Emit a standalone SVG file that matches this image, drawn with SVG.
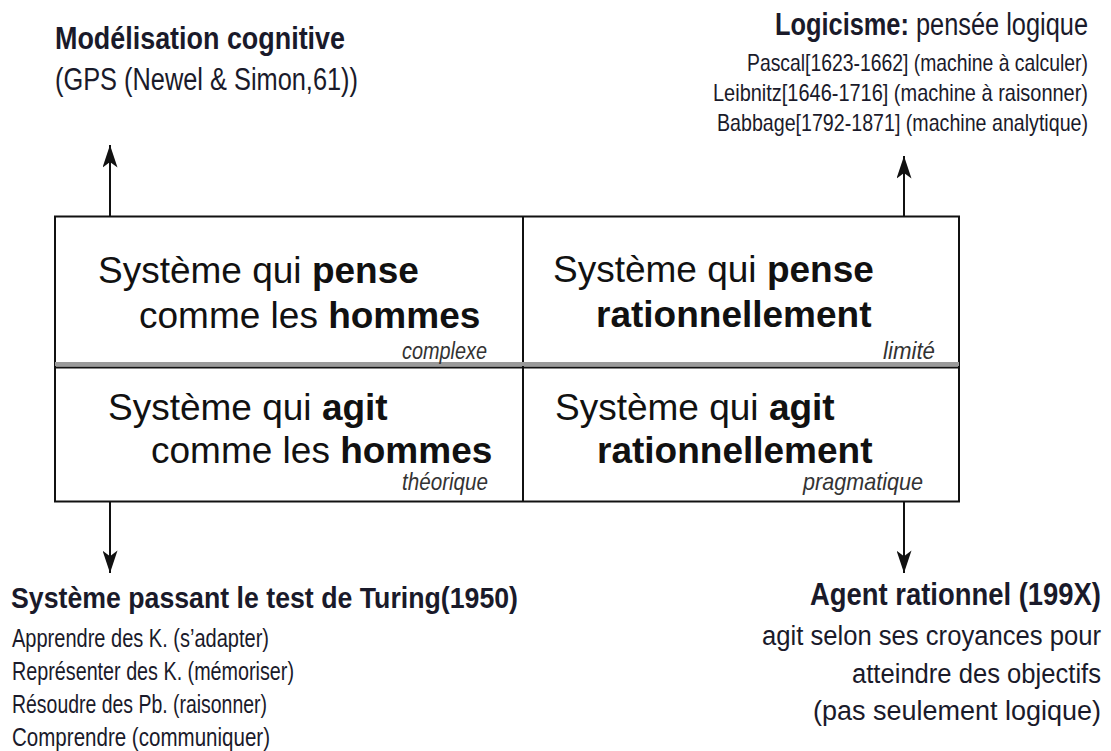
<svg xmlns="http://www.w3.org/2000/svg" width="1111" height="751" viewBox="0 0 1111 751">
<style>
.big{font-family:"Liberation Sans",Arial,sans-serif;font-size:37px;fill:#111}
.b{font-weight:bold}
.tag{font-family:"Liberation Sans Narrow","Liberation Sans",Arial,sans-serif;font-style:italic;font-size:24px;fill:#333}
.cd{font-family:"Liberation Sans Narrow","Liberation Sans",Arial,sans-serif;fill:#1a1a2a}
.line{stroke:#111;stroke-width:2;fill:none}
</style>
<defs>
<marker id="ah" viewBox="0 0 24 16" refX="24" refY="8" markerWidth="24" markerHeight="15" markerUnits="userSpaceOnUse" orient="auto">
<path d="M0,0 L24,8 L0,16 L6,8 Z" fill="#111"/>
</marker>
</defs>
<rect width="1111" height="751" fill="#fff"/>

<g id="grid">
<rect x="55" y="216.5" width="904" height="285" class="line"/>
<line x1="523" y1="216.5" x2="523" y2="501.5" class="line"/>
<rect x="55" y="362" width="904" height="4" fill="#9a9a9a"/>
<line x1="55" y1="367.5" x2="959" y2="367.5" class="line"/>
</g>

<g id="cell-pense-hommes">
<text class="big" x="98" y="283">Système qui <tspan class="b">pense</tspan></text>
<text class="big" x="139" y="328">comme les <tspan class="b">hommes</tspan></text>
<text class="tag" x="402" y="359" textLength="85" lengthAdjust="spacingAndGlyphs">complexe</text>
</g>
<g id="cell-pense-rationnel">
<text class="big" x="553" y="282">Système qui <tspan class="b">pense</tspan></text>
<text class="big b" x="596" y="327">rationnellement</text>
<text class="tag" x="883" y="359" textLength="52" lengthAdjust="spacingAndGlyphs">limité</text>
</g>
<g id="cell-agit-hommes">
<text class="big" x="108" y="420">Système qui <tspan class="b">agit</tspan></text>
<text class="big" x="151" y="463">comme les <tspan class="b">hommes</tspan></text>
<text class="tag" x="402" y="490" textLength="86" lengthAdjust="spacingAndGlyphs">théorique</text>
</g>
<g id="cell-agit-rationnel">
<text class="big" x="555" y="420">Système qui <tspan class="b">agit</tspan></text>
<text class="big b" x="597" y="463">rationnellement</text>
<text class="tag" x="803" y="490" textLength="120" lengthAdjust="spacingAndGlyphs">pragmatique</text>
</g>

<g id="connectors">
<line x1="110" y1="216" x2="110" y2="145" class="line" marker-end="url(#ah)"/>
<line x1="904" y1="216" x2="904" y2="156" class="line" marker-end="url(#ah)"/>
<line x1="110" y1="502" x2="110" y2="573" class="line" marker-end="url(#ah)"/>
<line x1="904" y1="502" x2="904" y2="573" class="line" marker-end="url(#ah)"/>
</g>

<g id="modelisation">
<text class="cd b" x="55" y="49" font-size="31" textLength="290" lengthAdjust="spacingAndGlyphs">Modélisation cognitive</text>
<text class="cd" x="55" y="90" font-size="31" textLength="303" lengthAdjust="spacingAndGlyphs">(GPS (Newel &amp; Simon,61))</text>
</g>

<g id="logicisme">
<text class="cd" x="775" y="35" font-size="31" textLength="313" lengthAdjust="spacingAndGlyphs"><tspan class="b">Logicisme:</tspan> pensée logique</text>
<text class="cd" x="747" y="71" font-size="24" textLength="341" lengthAdjust="spacingAndGlyphs">Pascal[1623-1662] (machine à calculer)</text>
<text class="cd" x="713" y="101" font-size="24" textLength="375" lengthAdjust="spacingAndGlyphs">Leibnitz[1646-1716] (machine à raisonner)</text>
<text class="cd" x="717" y="131" font-size="24" textLength="371" lengthAdjust="spacingAndGlyphs">Babbage[1792-1871] (machine analytique)</text>
</g>

<g id="turing">
<text class="cd b" x="11" y="608" font-size="30" textLength="507" lengthAdjust="spacingAndGlyphs">Système passant le test de Turing(1950)</text>
<text class="cd" x="12" y="647" font-size="25" textLength="257" lengthAdjust="spacingAndGlyphs">Apprendre des K. (s’adapter)</text>
<text class="cd" x="12" y="680" font-size="25" textLength="282" lengthAdjust="spacingAndGlyphs">Représenter des K. (mémoriser)</text>
<text class="cd" x="12" y="713" font-size="25" textLength="255" lengthAdjust="spacingAndGlyphs">Résoudre des Pb. (raisonner)</text>
<text class="cd" x="12" y="746" font-size="25" textLength="258" lengthAdjust="spacingAndGlyphs">Comprendre (communiquer)</text>
</g>

<g id="agent">
<text class="cd b" x="810" y="605" font-size="31" textLength="291" lengthAdjust="spacingAndGlyphs">Agent rationnel (199X)</text>
<text class="cd" x="762" y="645" font-size="27" textLength="339" lengthAdjust="spacingAndGlyphs">agit selon ses croyances pour</text>
<text class="cd" x="852" y="683" font-size="27" textLength="249" lengthAdjust="spacingAndGlyphs">atteindre des objectifs</text>
<text class="cd" x="813" y="720" font-size="27" textLength="288" lengthAdjust="spacingAndGlyphs">(pas seulement logique)</text>
</g>
</svg>
